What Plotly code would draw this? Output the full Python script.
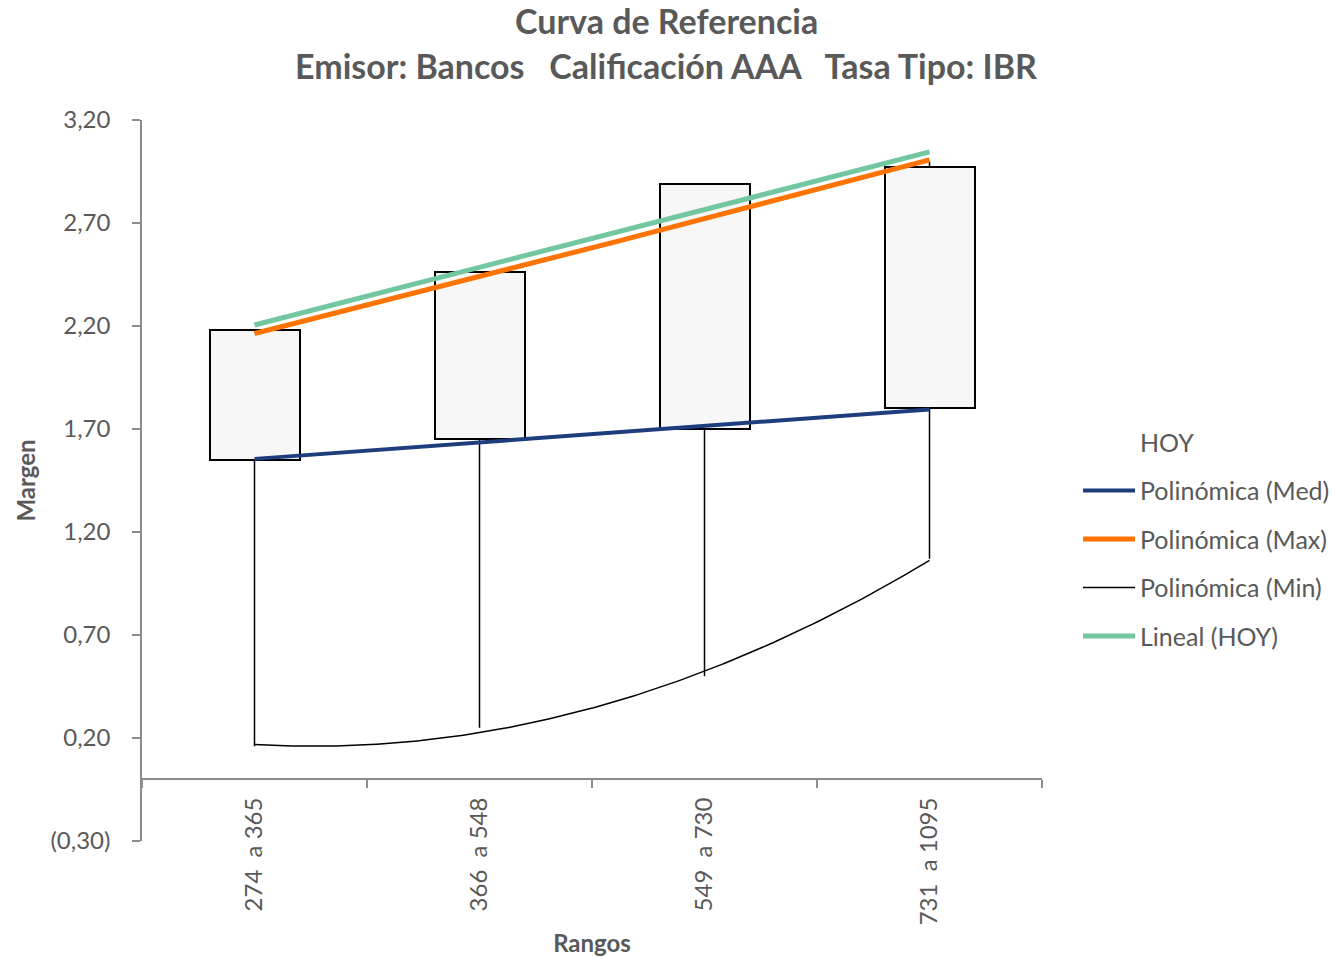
import numpy as np
import plotly.graph_objects as go

# Rangos de plazo (días)
rangos = ["274 \u00a0a 365", "366 \u00a0a 548", "549 \u00a0a 730", "731 \u00a0a 1095"]

# Márgenes por rango
med = [1.55, 1.65, 1.70, 1.80]
maxi = [2.17, 2.42, 2.74, 3.00]
mini = [0.16, 0.25, 0.50, 1.07]
hoy = [2.18, 2.46, 2.89, 2.97]

# Eje vertical
y_ticks = [-0.30, 0.20, 0.70, 1.20, 1.70, 2.20, 2.70, 3.20]
y_labels = ["(0,30)", "0,20", "0,70", "1,20", "1,70", "2,20", "2,70", "3,20"]

titulo = "Curva de Referencia"
subtitulo = "Emisor: Bancos \u00a0\u00a0Calificación AAA \u00a0\u00a0Tasa Tipo: IBR"

FONT = "Lato"
GREY = "#595959"
AXIS = "#8c8c8c"

x = np.arange(len(rangos))
xs = np.linspace(x[0], x[-1], 200)
y_min, y_max = -0.30, 3.20
W, H = 1332, 957
plot_left, plot_w = 142, 900
plot_top, plot_h = 120, 721

fig = go.Figure()

# Líneas máximo-mínimo (por fuera de la caja Med-HOY)
hl_x, hl_y = [], []
for xi, a, b, c, d in zip(x, med, maxi, mini, hoy):
    hi = max(a, b, c, d)
    lo = min(a, b, c, d)
    box_lo, box_hi = min(a, d), max(a, d)
    hl_x += [xi, xi, None, xi, xi, None]
    hl_y += [lo, box_lo, None, box_hi, hi, None]
fig.add_trace(go.Scatter(x=hl_x, y=hl_y, mode="lines", line=dict(color="black", width=1.5),
                         showlegend=False, hoverinfo="skip"))

# Barras Med -> HOY
fig.add_trace(go.Bar(x=x, y=[h - m for h, m in zip(hoy, med)], base=med, width=0.4,
                     marker=dict(color="#f7f7f7", line=dict(color="black", width=2)),
                     showlegend=False))

# Serie HOY (sin marcador)
fig.add_trace(go.Scatter(x=x, y=hoy, mode="lines", line=dict(width=0, color="rgba(0,0,0,0)"),
                         name="HOY", legendgroup="g0", hoverinfo="skip"))


def poly(vals, deg):
    c = np.polyfit(x, vals, deg)
    return np.polyval(c, xs)


fig.add_trace(go.Scatter(x=xs, y=poly(med, 2), mode="lines", line=dict(color="#1f3d7d", width=4),
                         name="Polinómica (Med)", legendgroup="g1"))
fig.add_trace(go.Scatter(x=xs, y=poly(maxi, 2), mode="lines", line=dict(color="#ff7300", width=5),
                         name="Polinómica (Max)", legendgroup="g2"))
fig.add_trace(go.Scatter(x=xs, y=poly(mini, 2), mode="lines", line=dict(color="black", width=1.5),
                         name="Polinómica (Min)", legendgroup="g3"))
fig.add_trace(go.Scatter(x=xs, y=poly(hoy, 1), mode="lines", line=dict(color="#72c6a0", width=5),
                         name="Lineal (HOY)", legendgroup="g4"))


def paper_y(px):
    return 1 + (plot_top - px) / plot_h


title_x = (W / 2 - plot_left) / plot_w

fig.update_layout(
    width=W, height=H,
    margin=dict(l=plot_left, r=W - plot_left - plot_w, t=plot_top, b=H - plot_top - plot_h,
                autoexpand=False),
    paper_bgcolor="white", plot_bgcolor="white",
    font=dict(family=FONT, color=GREY, size=24),
    showlegend=True,
    legend=dict(x=1.04, y=0.585, xanchor="left", yanchor="top", traceorder="grouped",
                tracegroupgap=13, itemwidth=52, font=dict(size=25, color=GREY),
                bgcolor="rgba(0,0,0,0)"),
    bargap=0,
    annotations=[
        dict(text="<b>%s</b>" % titulo, x=title_x, y=paper_y(20), xref="paper", yref="paper",
             xanchor="center", yanchor="middle", showarrow=False,
             font=dict(family=FONT, size=34, color=GREY)),
        dict(text="<b>%s</b>" % subtitulo, x=title_x, y=paper_y(65), xref="paper", yref="paper",
             xanchor="center", yanchor="middle", showarrow=False,
             font=dict(family=FONT, size=34, color=GREY)),
    ],
)

fig.update_xaxes(
    range=[-0.5, 3.5], anchor="free", position=(0 - y_min) / (y_max - y_min),
    tickvals=list(x), ticktext=rangos, tickangle=-90, ticks="",
    ticklabelstandoff=8,
    minor=dict(tickvals=[-0.5, 0.5, 1.5, 2.5, 3.5], ticks="outside", ticklen=8, tickcolor=AXIS, tickwidth=1.5),
    showline=True, linecolor=AXIS, linewidth=1.5, showgrid=False, zeroline=False,
    tickfont=dict(size=24, color=GREY),
    title=dict(text="<b>Rangos</b>", font=dict(size=24, color=GREY), standoff=10),
    automargin=False,
)
fig.update_yaxes(
    range=[y_min, y_max], tickvals=y_ticks, ticktext=y_labels,
    ticks="outside", ticklen=8, tickcolor=AXIS, tickwidth=1.5,
    ticklabelstandoff=17,
    showline=True, linecolor=AXIS, linewidth=1.5, showgrid=False, zeroline=False,
    tickfont=dict(size=24, color=GREY),
    title=dict(text="<b>Margen</b>", font=dict(size=24, color=GREY), standoff=8),
    automargin=False,
)

fig.write_html("out.html")
